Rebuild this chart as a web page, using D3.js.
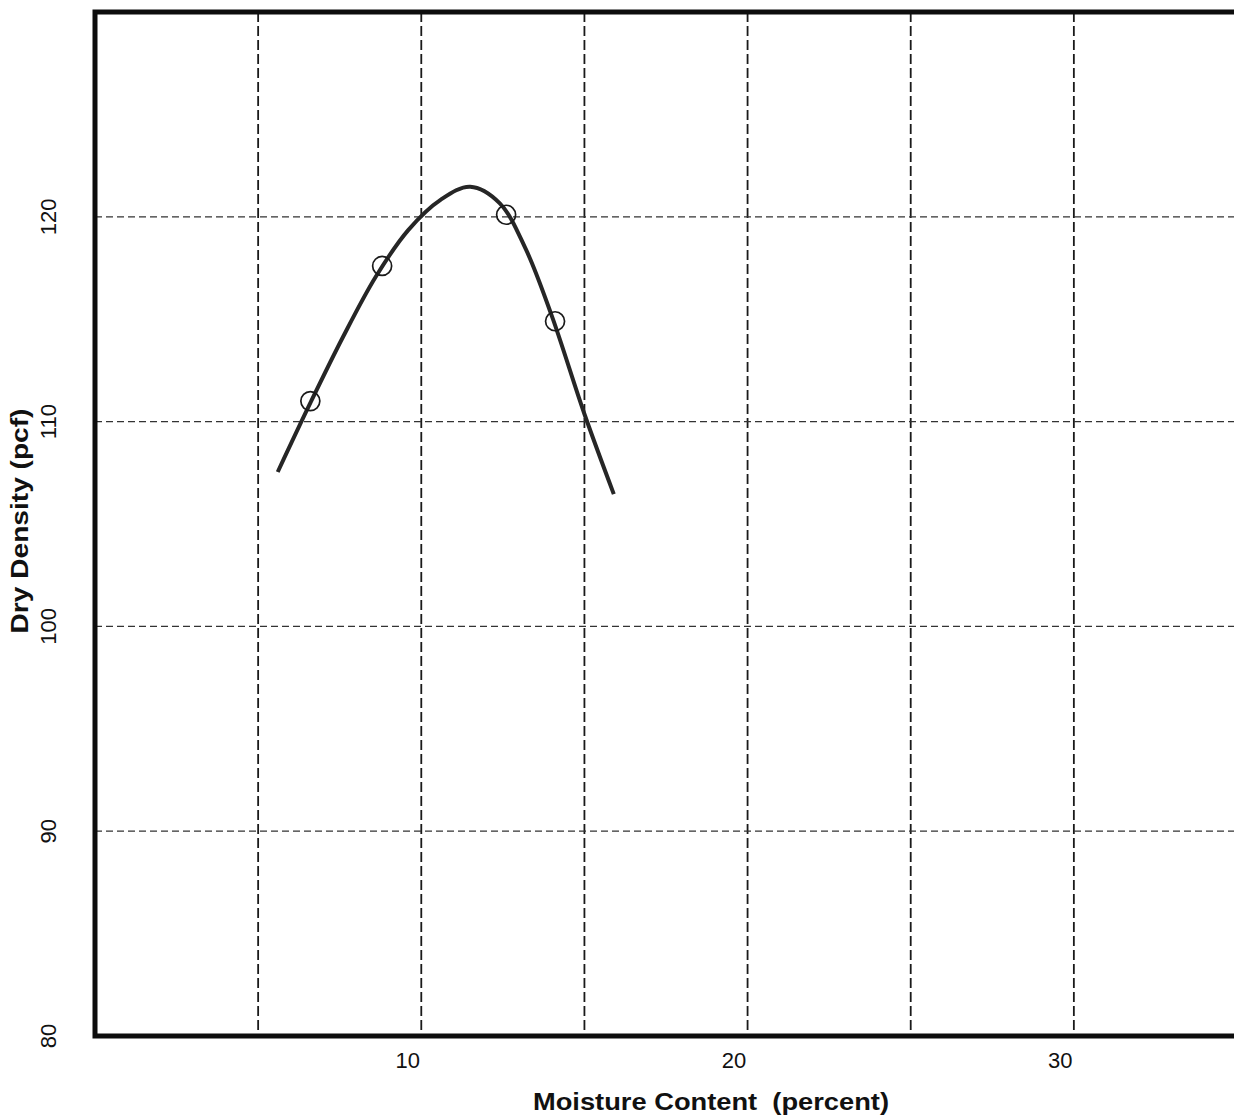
<!DOCTYPE html>
<html>
<head>
<meta charset="utf-8">
<title>Moisture-Density Relationship</title>
<script src="https://cdnjs.cloudflare.com/ajax/libs/d3/7.8.5/d3.min.js"></script>
<style>
body{margin:0;background:#fff;}
svg{display:block;}
text{font-family:"Liberation Sans",Arial,Helvetica,sans-serif;fill:#111;}
.title{font-weight:bold;font-size:23px;white-space:pre;}
.tick text{font-size:22px;}
</style>
</head>
<body>
<svg id="proctor"></svg>
<script>
// test points (moisture %, dry density pcf)
var moisture = [6.6, 8.8, 12.6, 14.1];
var density = [111.0, 117.6, 120.1, 114.9];

// compaction curve
var curveMoisture = [5.6, 6.6, 7.6, 8.6, 9.6, 10.6, 11.5, 12.4, 13.2, 14.0, 15.0, 15.9];
var curveDensity = [107.54, 110.91, 114.13, 117.06, 119.35, 120.84, 121.47, 120.67, 118.43, 115.16, 110.37, 106.46];

var xTicks = [10, 20, 30];
var yTicks = [80, 90, 100, 110, 120];
var xGrid = [5, 10, 15, 20, 25, 30];
var yGrid = [90, 100, 110, 120];

var xTitle = "Moisture Content  (percent)";
var yTitle = "Dry Density (pcf)";

var initGraph = function()
{
    var screen = {width:1234, height:1119}
    var margins = {left:95, top:12, bottom:83}
    var graph = {
        width:1142,
        height:screen.height-margins.top-margins.bottom
    }

    var svg = d3.select("#proctor")
        .attr("width", screen.width)
        .attr("height", screen.height)

    var xScale = d3.scaleLinear()
        .domain([0, 35])
        .range([margins.left, margins.left+graph.width])

    var yScale = d3.scaleLinear()
        .domain([80, 130])
        .range([margins.top+graph.height, margins.top])

    drawGrid(svg, xScale, yScale);
    drawFrame(svg, xScale, yScale);
    drawCurve(svg, xScale, yScale);
    drawAxes(svg, xScale, yScale);
    drawLabels(svg, xScale, yScale);
}

var drawGrid = function(svg, xScale, yScale)
{
    var grid = svg.append("g").attr("class", "grid")

    grid.selectAll("line.v")
        .data(xGrid)
        .enter()
        .append("line")
        .attr("class", "v")
        .attr("x1", function(d){ return xScale(d); })
        .attr("x2", function(d){ return xScale(d); })
        .attr("y1", yScale(130))
        .attr("y2", yScale(80))
        .attr("stroke", "#1a1a1a")
        .attr("stroke-width", 1.8)
        .attr("stroke-dasharray", "10,4")

    grid.selectAll("line.h")
        .data(yGrid)
        .enter()
        .append("line")
        .attr("class", "h")
        .attr("x1", xScale(0))
        .attr("x2", xScale(35))
        .attr("y1", function(d){ return yScale(d); })
        .attr("y2", function(d){ return yScale(d); })
        .attr("stroke", "#333")
        .attr("stroke-width", 1.3)
        .attr("stroke-dasharray", "7,4")
}

var drawFrame = function(svg, xScale, yScale)
{
    var frame = d3.path()
    frame.moveTo(xScale(35), yScale(130))
    frame.lineTo(xScale(0), yScale(130))
    frame.lineTo(xScale(0), yScale(80))
    frame.lineTo(xScale(35), yScale(80))

    svg.append("path")
        .attr("d", frame.toString())
        .attr("fill", "none")
        .attr("stroke", "#0d0d0d")
        .attr("stroke-width", 5)
        .attr("stroke-linejoin", "miter")
}

var drawCurve = function(svg, xScale, yScale)
{
    var pts = curveMoisture.map(function(m, i){ return [m, curveDensity[i]]; })

    var line = d3.line()
        .x(function(d){ return xScale(d[0]); })
        .y(function(d){ return yScale(d[1]); })
        .curve(d3.curveCatmullRom.alpha(0.5))

    svg.append("path")
        .datum(pts)
        .attr("d", line)
        .attr("fill", "none")
        .attr("stroke", "#262626")
        .attr("stroke-width", 4)
        .attr("stroke-linecap", "butt")

    svg.selectAll("circle")
        .data(moisture)
        .enter()
        .append("circle")
        .attr("cx", function(d){ return xScale(d); })
        .attr("cy", function(d, i){ return yScale(density[i]); })
        .attr("r", 9.5)
        .attr("fill", "none")
        .attr("stroke", "#1a1a1a")
        .attr("stroke-width", 1.7)
}

var drawAxes = function(svg, xScale, yScale)
{
    var xAxis = d3.axisBottom(xScale)
        .tickValues(xTicks)
        .tickFormat(d3.format("d"))
        .tickSize(0)
        .tickPadding(16)

    var gx = svg.append("g")
        .attr("transform", "translate(0," + yScale(80) + ")")
        .call(xAxis)
    gx.select(".domain").remove()
    gx.selectAll("text").attr("dx", "-14").attr("fill", "#111")

    svg.append("g")
        .attr("class", "tick")
        .selectAll("text")
        .data(yTicks)
        .enter()
        .append("text")
        .attr("transform", function(d){ return "translate(48," + yScale(d) + ") rotate(-90)"; })
        .attr("text-anchor", "middle")
        .attr("dy", "0.35em")
        .text(function(d){ return d; })
}

var drawLabels = function(svg, xScale, yScale)
{
    var labels = svg.append("g").classed("labels", true)

    labels.append("text")
        .classed("title", true)
        .attr("x", 711)
        .attr("y", 1110)
        .attr("text-anchor", "middle")
        .attr("textLength", 356)
        .attr("lengthAdjust", "spacingAndGlyphs")
        .text(xTitle)

    labels.append("g")
        .attr("transform", "translate(28,521)")
        .append("text")
        .classed("title", true)
        .attr("transform", "rotate(-90)")
        .attr("text-anchor", "middle")
        .attr("textLength", 225)
        .attr("lengthAdjust", "spacingAndGlyphs")
        .text(yTitle)
}

initGraph();
</script>
</body>
</html>
